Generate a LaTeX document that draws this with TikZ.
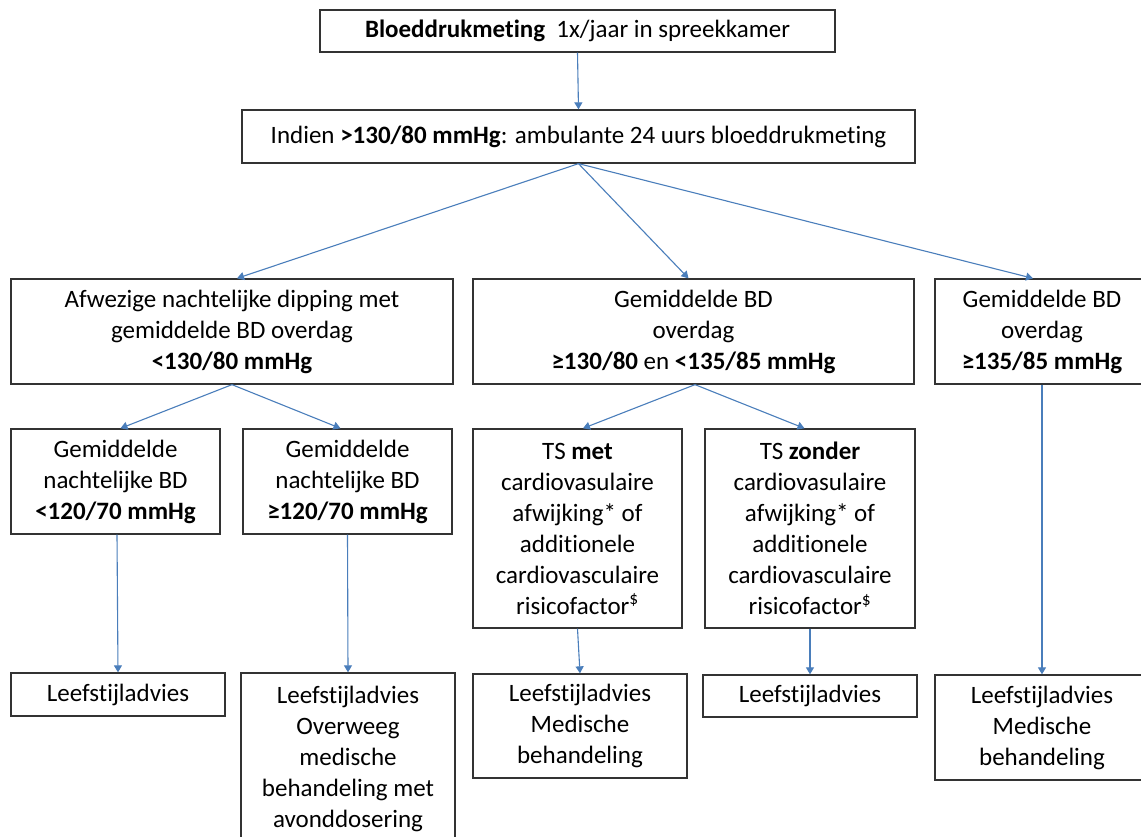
\documentclass[tikz,border=0pt]{standalone}
\usepackage{fontspec}
\setmainfont[Ligatures=NoCommon]{Carlito}
\usetikzlibrary{arrows.meta}
\definecolor{arrowblue}{HTML}{4A7EBB}
\definecolor{boxline}{HTML}{333333}
\tikzset{
  box/.style={draw=boxline, line width=1.3pt, rectangle, inner sep=0pt,
    align=center, font=\fontsize{25}{31}\selectfont},
  arr/.style={draw=arrowblue, line width=1.1pt,
    -{Triangle[length=7pt,width=8pt]}},
}
\newcommand{\boxat}[6]{% name, cx, cy, w, h, text
  \node[box, minimum width=#4pt, minimum height=#5pt] (#1) at (#2,#3) {#6};}
\begin{document}
\begin{tikzpicture}[x=1pt,y=-1pt]
\useasboundingbox (0,0) rectangle (1141,837);
\clip (0,0) rectangle (1141,837);
\fill[white] (0,0) rectangle (1141,837);

% level 0 and 1
\boxat{meting}{577.5}{31}{515}{42}{\textbf{Bloeddrukmeting}\ \ 1x/jaar in spreekkamer}
\boxat{abpm}{578.5}{136.5}{673}{53}{Indien \textbf{>130/80 mmHg}: ambulante 24 uurs bloeddrukmeting}

% level 2
\boxat{dip}{232}{331.5}{442}{105}{Afwezige nachtelijke dipping met\\gemiddelde BD overdag\\\textbf{<130/80 mmHg}}
\boxat{mid}{693.5}{331.5}{441}{105}{Gemiddelde BD\\overdag\\\textbf{≥130/80} en \textbf{<135/85 mmHg}}
\boxat{high}{1042}{331.5}{214}{105}{Gemiddelde BD\\overdag\\\textbf{≥135/85 mmHg}}

% level 3
\boxat{nlow}{115.5}{481.5}{209}{105}{Gemiddelde\\nachtelijke BD\\\textbf{<120/70 mmHg}}
\boxat{nhigh}{347.5}{481.5}{209}{105}{Gemiddelde\\nachtelijke BD\\\textbf{≥120/70 mmHg}}
\boxat{tsmet}{577.5}{528.5}{209}{199}{TS \textbf{met}\\cardiovasulaire\\afwijking* of\\additionele\\cardiovasculaire\\risicofactor\textsuperscript{\$}}
\boxat{tszonder}{810}{528.5}{210}{199}{TS \textbf{zonder}\\cardiovasulaire\\afwijking* of\\additionele\\cardiovasculaire\\risicofactor\textsuperscript{\$}}

% advice row
\boxat{adv1}{118}{694.5}{214}{43}{Leefstijladvies}
\boxat{adv2}{348}{759}{214}{172}{Leefstijladvies\\Overweeg\\medische\\behandeling met\\avonddosering}
\boxat{adv3}{580}{726}{214}{104}{Leefstijladvies\\Medische\\behandeling}
\boxat{adv4}{810}{696}{214}{42}{Leefstijladvies}
\boxat{adv5}{1042}{727.5}{214}{105}{Leefstijladvies\\Medische\\behandeling}

% connectors
\draw[arr] (meting.south) -- (abpm.north);
\draw[arr] (abpm.south) -- ([xshift=5pt]dip.north);
\draw[arr] (abpm.south) -- ([xshift=-5pt]mid.north);
\draw[arr] (abpm.south) -- ([xshift=-9pt]high.north);
\draw[arr] (dip.south) -- ([xshift=5pt]nlow.north);
\draw[arr] (dip.south) -- ([xshift=-7pt]nhigh.north);
\draw[arr] ([xshift=1.5pt]mid.south) -- ([xshift=5.5pt]tsmet.north);
\draw[arr] ([xshift=1.5pt]mid.south) -- ([xshift=-5.5pt]tszonder.north);
\draw[arr] ([xshift=1.5pt]nlow.south) -- (adv1.north);
\draw[arr] (nhigh.south) -- (adv2.north);
\draw[arr] (tsmet.south) -- (adv3.north);
\draw[arr] (tszonder.south) -- (adv4.north);
\draw[arr] (high.south) -- (adv5.north);
\end{tikzpicture}
\end{document}
